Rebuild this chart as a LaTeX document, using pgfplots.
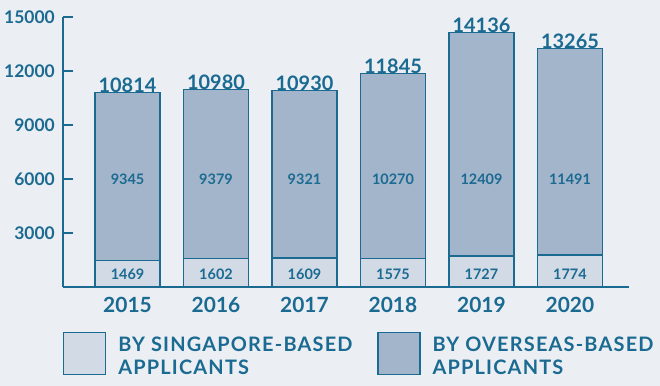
\documentclass[border=0pt]{standalone}
\usepackage{fontspec}
\setmainfont{Lato}
\newfontfamily\legfont[LetterSpace=6]{Lato}
\usepackage{pgfplots}
\pgfplotsset{compat=1.18}
\definecolor{mainc}{HTML}{1A6A91}
\definecolor{darkc}{HTML}{A3B5CA}
\definecolor{lightc}{HTML}{D2DAE5}
\definecolor{bgc}{HTML}{EBEEF3}
\newcommand{\tot}{\bfseries\fontsize{20}{20}\selectfont}
\newcommand{\inn}{\bfseries\fontsize{14.5}{14.5}\selectfont}
\begin{document}
\begin{tikzpicture}
\path[fill=bgc, use as bounding box] (0,0) rectangle (660bp,-386bp);
\begin{axis}[
  at={(63bp,-287bp)}, anchor=south west,
  scale only axis, width=566bp, height=270bp,
  xmin=-0.729, xmax=5.667, ymin=0, ymax=15000,
  axis x line*=bottom, axis y line*=left,
  axis line style={mainc, line width=1.8bp},
  ybar stacked, bar width=65bp,
  xtick={0,1,2,3,4,5},
  xticklabels={2015,2016,2017,2018,2019,2020},
  x tick style={draw=none},
  scaled y ticks=false,
  ytick={3000,6000,9000,12000,15000},
  yticklabels={3000,6000,9000,12000,15000},
  y tick style={mainc, line width=1.8bp},
  major tick length=10bp, ytick align=inside,
  tick label style={text=mainc, font=\bfseries\fontsize{17.5}{17.5}\selectfont},
  xticklabel style={anchor=base, yshift=-25bp, font=\bfseries\fontsize{21}{21}\selectfont},
  yticklabel style={anchor=east, inner sep=0pt, xshift=-8bp},
  clip=false,
  legend columns=2,
  legend cell align=left,
  legend style={at={(rel axis cs:0,-0.1667)}, anchor=north west, draw=none, fill=none,
    inner sep=0pt, outer sep=0pt, text=mainc,
    font=\legfont\bfseries\fontsize{20}{23}\selectfont,
    /tikz/every odd column/.append style={column sep=12bp},
    /tikz/every even column/.append style={column sep=10bp},
    nodes={inner sep=0pt}},
  legend image code/.code={\draw[#1, line width=1.3bp] (0bp,-21bp) rectangle (42bp,21bp);},
]
\addplot[fill=lightc, draw=mainc, line width=1.3bp] coordinates {(0,1469) (1,1602) (2,1609) (3,1575) (4,1727) (5,1774)};
\addlegendentry{\raisebox{7bp}{\parbox[c]{249bp}{BY SINGAPORE-BASED\\APPLICANTS}}}
\addplot[fill=darkc, draw=mainc, line width=1.3bp] coordinates {(0,9345) (1,9379) (2,9321) (3,10270) (4,12409) (5,11491)};
\addlegendentry{\raisebox{7bp}{\parbox[c]{240bp}{BY OVERSEAS-BASED\\APPLICANTS}}}
\coordinate (t0) at (axis cs:0,10814);
\coordinate (t1) at (axis cs:1,10980);
\coordinate (t2) at (axis cs:2,10930);
\coordinate (t3) at (axis cs:3,11845);
\coordinate (t4) at (axis cs:4,14136);
\coordinate (t5) at (axis cs:5,13265);
\coordinate (o0) at (axis cs:0,6000);
\coordinate (o1) at (axis cs:1,6000);
\coordinate (o2) at (axis cs:2,6000);
\coordinate (o3) at (axis cs:3,6000);
\coordinate (o4) at (axis cs:4,6000);
\coordinate (o5) at (axis cs:5,6000);
\coordinate (s0) at (axis cs:0,722);
\coordinate (s1) at (axis cs:1,722);
\coordinate (s2) at (axis cs:2,722);
\coordinate (s3) at (axis cs:3,722);
\coordinate (s4) at (axis cs:4,722);
\coordinate (s5) at (axis cs:5,722);
\end{axis}
\tikzset{tl/.style={anchor=base, inner sep=0pt, text=mainc, font=\tot},
         il/.style={inner sep=0pt, text=mainc, font=\inn}}
\node[tl] at (t0) {10814};
\node[tl] at (t1) {10980};
\node[tl] at (t2) {10930};
\node[tl] at (t3) {11845};
\node[tl] at (t4) {14136};
\node[tl] at (t5) {13265};
\node[il] at (o0) {9345};
\node[il] at (o1) {9379};
\node[il] at (o2) {9321};
\node[il] at (o3) {10270};
\node[il] at (o4) {12409};
\node[il] at (o5) {11491};
\node[il] at (s0) {1469};
\node[il] at (s1) {1602};
\node[il] at (s2) {1609};
\node[il] at (s3) {1575};
\node[il] at (s4) {1727};
\node[il] at (s5) {1774};
\end{tikzpicture}
\end{document}
